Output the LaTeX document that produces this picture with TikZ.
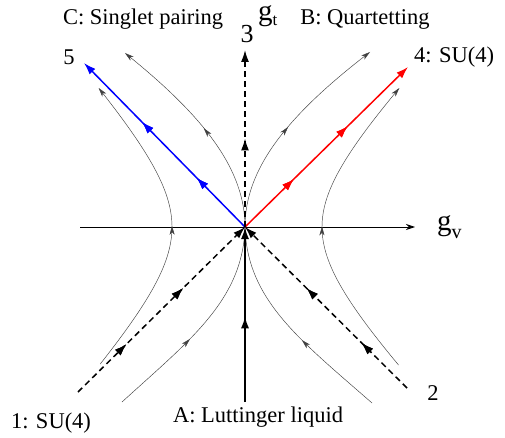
\documentclass[tikz,border=0pt]{standalone}
\usepackage{fontspec}
\setmainfont{Liberation Serif}
\usetikzlibrary{arrows.meta,decorations.markings}
\begin{document}
\begin{tikzpicture}[x=1pt,y=-1pt,
  lbl/.style={inner sep=0pt,anchor=base,font=\fontsize{22.5}{26}\selectfont},
  big/.style={inner sep=0pt,anchor=base,font=\fontsize{22.5}{26}\selectfont},
  axlbl/.style={inner sep=0pt,anchor=base west,font=\fontsize{29}{31}\selectfont},
  thickarrow/.style={-{Latex[length=12pt,width=8pt]},line width=1.5pt},
  thinline/.style={line width=0.45pt,draw=black!75,-{Stealth[length=9pt,width=5pt,inset=2.5pt]}},
  thinplain/.style={line width=0.45pt,draw=black!75},
  dashline/.style={thickarrow,dash pattern=on 6pt off 4pt},
  midarrows/.style={decoration={markings,
     mark=at position #1 with {\arrow{Latex[length=12pt,width=8pt]}}},postaction=decorate},
  midthin/.style={decoration={markings,
     mark=at position #1 with {\arrow{Stealth[length=9pt,width=5pt,inset=2.5pt]}}},postaction=decorate}
]
\useasboundingbox (0,0) rectangle (505,438);
\coordinate (O) at (245,227);
\coordinate (xl) at (80,227);
\coordinate (xr) at (415,227);
\coordinate (e5) at (84,63);
\coordinate (e4) at (408,67);
\coordinate (e3) at (245,50);
\coordinate (e1) at (78,392);
\coordinate (e2) at (407,388);
\coordinate (eA) at (245,402);
\coordinate (ul) at (125,53);
\coordinate (ur) at (370,52);
\coordinate (ll) at (122,402);
\coordinate (lr) at (372,403);

% axis
\draw[line width=0.9pt,-{Stealth[length=9pt,width=6pt]}] (xl) -- (xr);

% outer hyperbolas
\draw[thinline,midthin=0.5] plot[domain=137:-139,samples=60,smooth,variable=\yy]
  ({245-73*sqrt(1+(\yy/80)*(\yy/80))},{227+\yy});
\draw[thinline,midthin=0.5] plot[domain=138:-139,samples=60,smooth,variable=\yy]
  ({245+77*sqrt(1+(\yy/80)*(\yy/80))},{227+\yy});

% inner curves, upper
\draw[thinline,midthin=0.5] (O) .. controls (245,170) and (205,118) .. (ul);
\draw[thinline,midthin=0.5] (O) .. controls (245,170) and (285,118) .. (ur);
% inner curves, lower
\draw[thinplain,midthin=0.42] (ll) .. controls (190,340) and (243,300) .. (O);
\draw[thinplain,midthin=0.42] (lr) .. controls (300,340) and (247,300) .. (O);

% blue and red
\draw[thickarrow,blue,midarrows=0.3,midarrows=0.64] (O) -- (e5);
\draw[thickarrow,red,midarrows=0.3,midarrows=0.63] (O) -- (e4);

% dashed
\draw[dashline,midarrows=0.5] (O) -- (e3);
\draw[dashline,midarrows=0.29,midarrows=0.63] (e1) -- (O);
\draw[dashline,midarrows=0.28,midarrows=0.62] (e2) -- (O);
% solid vertical
\draw[thickarrow,line width=1.8pt,midarrows=0.49] (eA) -- (O);

% labels
\node[lbl] (lC) at (143,25) {C: Singlet pairing};
\node[lbl] (lB) at (365,25) {B: Quartetting};
\node[axlbl] (gt) at (258,21) {g\raisebox{-5pt}{\fontsize{17}{20}\selectfont t}};
\node[inner sep=0pt,anchor=base,font=\fontsize{26}{28}\selectfont] (l3) at (247,43) {3};
\node[big] (l5) at (69,65) {5};
\node[lbl] (l4) at (454,63) {4: SU(4)};
\node[axlbl] (gv) at (437,230) {g\raisebox{-8pt}{\fontsize{20}{22}\selectfont v}};
\node[big] (l2) at (433,400) {2};
\node[lbl] (l1) at (51,428) {1: SU(4)};
\node[lbl] (lA) at (258,422) {A: Luttinger liquid};
\end{tikzpicture}
\end{document}
